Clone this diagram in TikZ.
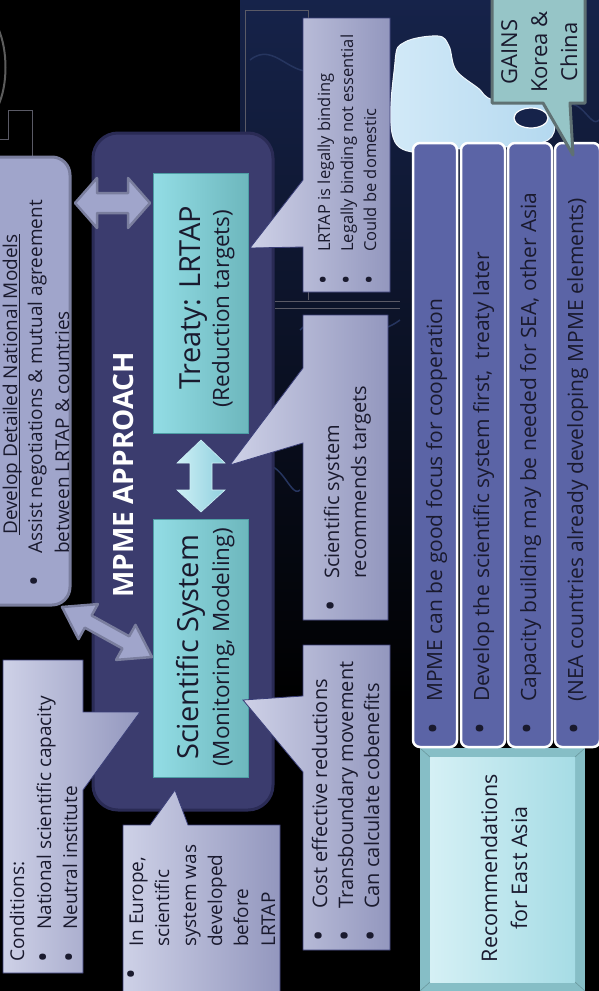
\documentclass[tikz,border=0pt]{standalone}
\usepackage{graphicx}
\usepackage{fontspec}
\setmainfont{Open Sans}
\definecolor{callL}{HTML}{CED1E7}
\definecolor{callR}{HTML}{9397BE}
\definecolor{callB}{HTML}{3A3E78}
\definecolor{lav}{HTML}{A0A5CB}
\definecolor{lavB}{HTML}{7A7E9E}
\definecolor{panelF}{HTML}{3B3C6E}
\definecolor{panelB}{HTML}{2A2B55}
\definecolor{cyL}{HTML}{93DDE5}
\definecolor{cyR}{HTML}{6DB7BD}
\definecolor{cyB}{HTML}{4E9EA5}
\definecolor{cardF}{HTML}{5B64A6}
\definecolor{txtdark}{HTML}{1A1A2E}
\definecolor{recA}{HTML}{D5F0F5}
\definecolor{recB}{HTML}{A6DCE5}
\definecolor{recE}{HTML}{86BEC6}
\definecolor{gainsF}{HTML}{96C5C7}
\definecolor{gainsB}{HTML}{5F7173}
\definecolor{puzz}{HTML}{B3D8EF}
\definecolor{puzzL}{HTML}{D3EAF8}
\definecolor{navyA}{HTML}{16234A}
\definecolor{navyL}{HTML}{26355F}
\definecolor{arrL}{HTML}{CDEFF5}
\definecolor{arrR}{HTML}{8FD0DE}
\definecolor{frameC}{HTML}{5A5A66}
\newcommand{\bul}{\raisebox{-0.12em}{\scalebox{1.5}{\textbullet}}}
\newcommand{\bl}[1]{\makebox[33pt][l]{\bul}#1}
\newcommand{\fs}[1]{\fontsize{#1}{#1}\selectfont}
\begin{document}
\begin{tikzpicture}[x=1pt,y=-1pt,
  rtext/.style={rotate=90, anchor=base west, inner sep=0pt, text=txtdark},
  ctext/.style={rotate=90, anchor=base, inner sep=0pt, text=txtdark},
  callout/.style={left color=callL, right color=callR, draw=callB, line width=0.8pt},
  lavarrow/.style={fill=lav, draw=lavB, line width=2.5pt, line join=round},
  card/.style={fill=cardF, draw=white, line width=2.5pt, rounded corners=7pt},
  cyanbox/.style={left color=cyL, right color=cyR, draw=cyB, line width=0.8pt},
  faint/.style={draw=frameC, line width=0.5pt}
]
\useasboundingbox (0,0) rectangle (599,991);
\clip (0,0) rectangle (599,991);
% background
\fill[black] (0,0) rectangle (599,991);
\shade[top color=navyA, bottom color=black] (240,0) rectangle (599,700);
\draw[navyL, line width=1.5pt] (250,60) .. controls (275,40) and (290,80) .. (320,70);
\draw[navyL, line width=1.5pt] (300,330) .. controls (330,300) and (360,350) .. (400,320);
\draw[navyL, line width=1.5pt] (560,110) .. controls (580,90) and (590,130) .. (599,120);
\draw[navyL, line width=1.5pt] (255,470) .. controls (280,450) and (290,500) .. (300,490);
% light puzzle piece
\shade[left color=puzzL, right color=puzz, draw=white!80!puzz, line width=1pt] plot[smooth cycle, tension=0.6] coordinates
  {(397,145) (395,62) (405,42) (438,36) (449,46) (456,70) (478,88) (494,100) (545,104) (548,140) (470,148)};
\fill[navyA, draw=white, line width=1.2pt] (531,118) ellipse (17 and 10);
% faint frame lines
\draw[faint] (0,139) -- (8,139) -- (8,110) -- (32,110) -- (32,157);
\draw[faint] (245,300) -- (245,10) -- (308,10) -- (308,300);
\draw[faint] (275,301) -- (400,301);
\draw[faint] (275,308) -- (400,308);
\draw[white!60!gray, line width=2pt, opacity=0.45] (-2,28) .. controls (8,50) and (8,85) .. (-2,106);
% panel
\draw[fill=panelF, draw=panelB, line width=3pt, rounded corners=25pt] (93,133) rectangle (273,810);
\node[rotate=90, anchor=base west, inner sep=0pt, text=white, font=\fs{28}\bfseries] (mpme) at (133,598) {MPME APPROACH};
% develop box
\draw[fill=lav, draw=lavB, line width=3pt, rounded corners=18pt] (-20,157) rectangle (70,605);
\node[rtext, font=\fs{19}] (dev1) at (17,535) {Develop Detailed National Models};
\draw[txtdark, line width=1pt] ([xshift=2pt]dev1.base west) -- ([xshift=2pt]dev1.base east);
\node[rtext, font=\fs{19}] (dev2) at (42,587) {\bl{Assist negotiations \& mutual agreement}};
\node[rtext, font=\fs{19}] (dev3) at (69,554) {between LRTAP \& countries};
% treaty and science boxes
\draw[cyanbox] (153,173) rectangle (248,433);
\draw[cyanbox] (153,519) rectangle (248,777);
\node[rtext, font=\fs{29}] (treaty) at (200,390) {Treaty: LRTAP};
\node[rtext, font=\fs{22.5}] (red) at (229,408) {(Reduction targets)};
\node[rtext, font=\fs{29}] (sci) at (198,760) {Scientific System};
\node[rtext, font=\fs{22.5}] (mon) at (229,767) {(Monitoring, Modeling)};
% arrows
\draw[lavarrow] (75,203) -- (97,178) -- (97,193) -- (128,193) -- (128,178) -- (150,203)
  -- (128,228) -- (128,213) -- (97,213) -- (97,228) -- cycle;
\draw[lavarrow] (62,607) -- (78.5,639.1) -- (84.8,627.7) -- (122.4,648.5) -- (116.1,659.9)
  -- (152,657) -- (135.5,624.9) -- (129.2,636.3) -- (91.6,615.5) -- (97.9,604.1) -- cycle;
\shade[left color=arrL, right color=arrR, draw=arrL, line width=0.6pt]
  (201,440) -- (225,463) -- (212,463) -- (212,490) -- (225,490) -- (201,512)
  -- (177,490) -- (190,490) -- (190,463) -- (177,463) -- cycle;
% callouts
\draw[callout] (303,18) -- (390,18) -- (390,292) -- (303,292) -- (303,247) -- (250,248) -- (303,180) -- cycle;
\node[rtext, font=\fs{16.5}] (lr1) at (330,285) {\bl{LRTAP is legally binding}};
\node[rtext, font=\fs{16.5}] (lr2) at (353,285) {\bl{Legally binding not essential}};
\node[rtext, font=\fs{16.5}] (lr3) at (376,285) {\bl{Could be domestic}};
\draw[callout] (303,315) -- (388,315) -- (388,620) -- (303,620) -- (303,443) -- (230,465) -- (303,368) -- cycle;
\node[rtext, font=\fs{20}] (sr1) at (339,612) {\bl{Scientific system}};
\node[rtext, font=\fs{20}] (sr2) at (366,579) {recommends targets};
\draw[callout] (303,645) -- (390,645) -- (390,950) -- (303,950) -- (303,772) -- (243,700) -- (303,696) -- cycle;
\node[rtext, font=\fs{20}] (ce1) at (327,942) {\bl{Cost effective reductions}};
\node[rtext, font=\fs{20}] (ce2) at (353,942) {\bl{Transboundary movement}};
\node[rtext, font=\fs{20}] (ce3) at (379,942) {\bl{Can calculate cobenefits}};
\draw[callout] (3,660) -- (83,660) -- (83,712) -- (140,712) -- (83,790) -- (83,973) -- (3,973) -- cycle;
\node[rtext, font=\fs{19}] (co1) at (24,962) {Conditions:};
\node[rtext, font=\fs{19}] (co2) at (51,963) {\bl{National scientific capacity}};
\node[rtext, font=\fs{19}] (co3) at (77,963) {\bl{Neutral institute}};
\draw[callout] (123,825) -- (150,825) -- (175,790) -- (188,825) -- (280,825) -- (280,1000) -- (123,1000) -- cycle;
\node[rtext, font=\fs{19}] (eu1) at (143,947) {In Europe,};
\node[rtext, font=\fs{19}] (eu2) at (169,947) {scientific};
\node[rtext, font=\fs{19}] (eu3) at (196,947) {system was};
\node[rtext, font=\fs{19}] (eu4) at (222,947) {developed};
\node[rtext, font=\fs{19}] (eu5) at (248,947) {before};
\node[rtext, font=\fs{19}] (eu6) at (275,947) {LRTAP};
\node[rtext, font=\fs{19}] (eub) at (139,980) {\bul};
% recommendation box
\fill[recE] (420,748) rectangle (585,991);
\shade[left color=recA, right color=recB] (430,757) rectangle (575,982);
\draw[recE!80!black, line width=0.6pt] (420,748) -- (430,757) (585,748) -- (575,757) (420,991) -- (430,982) (585,991) -- (575,982);
\node[ctext, font=\fs{21.5}] (rec1) at (497,868) {Recommendations};
\node[ctext, font=\fs{21.5}] (rec2) at (527,868) {for East Asia};
% cards
\draw[card] (413,143) rectangle (457,747);
\draw[card] (461,143) rectangle (505,747);
\draw[card] (508,143) rectangle (552,747);
\draw[card] (555,143) rectangle (600,747);
\node[rtext, font=\fs{21}] (c1) at (442,735) {\bl{MPME can be good focus for cooperation}};
\node[rtext, font=\fs{21}] (c2) at (489,735) {\bl{Develop the scientific system first,\ \ treaty later}};
\node[rtext, font=\fs{21}] (c3) at (536,735) {\bl{Capacity building may be needed for SEA, other Asia}};
\node[rtext, font=\fs{21}] (c4) at (583,735) {\bl{(NEA countries already developing MPME elements)}};
% GAINS callout
\draw[fill=gainsF, draw=gainsB, line width=3pt, line join=round] (492,-5) -- (585,-5) -- (585,103) -- (570,103) -- (573,155) -- (543,103) -- (492,103) -- cycle;
\node[ctext, font=\fs{22}] (g1) at (517,52) {GAINS};
\node[ctext, font=\fs{22}] (g2) at (547,52) {Korea \&};
\node[ctext, font=\fs{22}] (g3) at (577,52) {China};
\end{tikzpicture}
\end{document}
